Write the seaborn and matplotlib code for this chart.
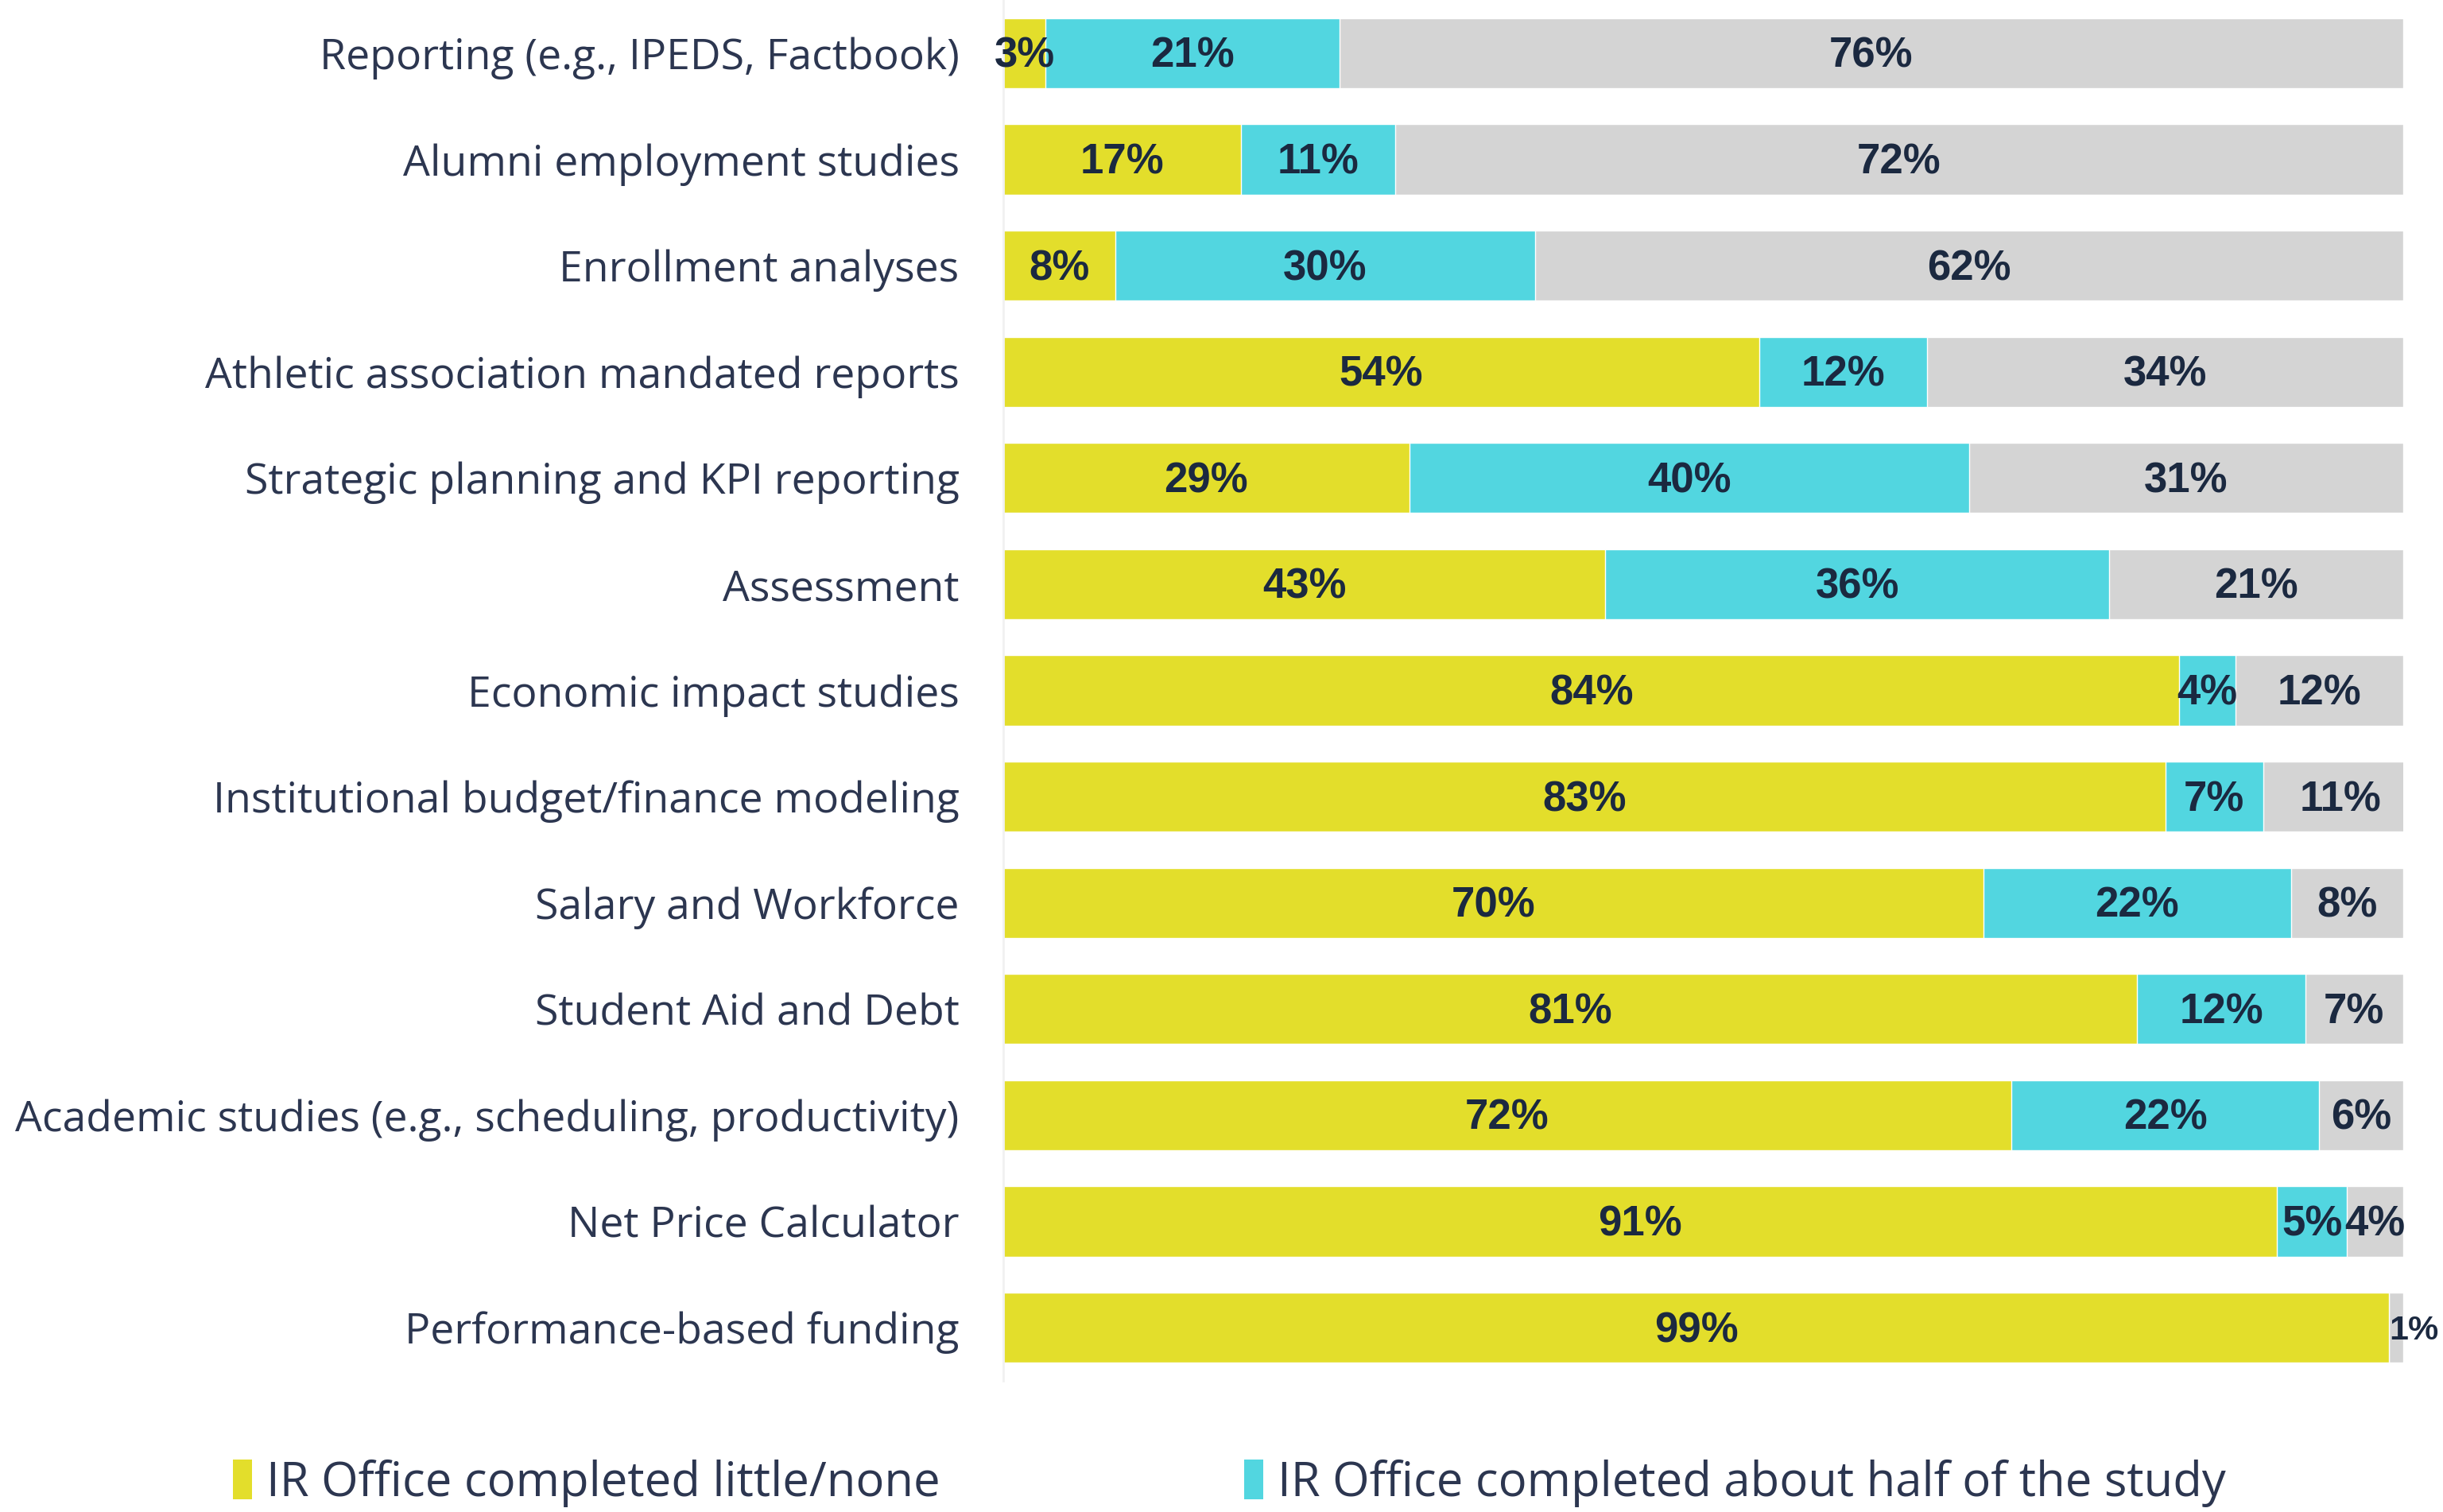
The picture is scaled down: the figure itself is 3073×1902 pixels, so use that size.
import numpy as np
import pandas as pd
import seaborn as sns
import matplotlib.pyplot as plt
from matplotlib.patches import Patch

# data (top row first)
categories = [
    "Reporting (e.g., IPEDS, Factbook)",
    "Alumni employment studies",
    "Enrollment analyses",
    "Athletic association mandated reports",
    "Strategic planning and KPI reporting",
    "Assessment",
    "Economic impact studies",
    "Institutional budget/finance modeling",
    "Salary and Workforce",
    "Student Aid and Debt",
    "Academic studies (e.g., scheduling, productivity)",
    "Net Price Calculator",
    "Performance-based funding",
]
little = [3, 17, 8, 54, 29, 43, 84, 83, 70, 81, 72, 91, 99]
half = [21, 11, 30, 12, 40, 36, 4, 7, 22, 12, 22, 5, 0]
most = [76, 72, 62, 34, 31, 21, 12, 11, 8, 7, 6, 4, 1]
legend_labels = ["IR Office completed little/none",
                 "IR Office completed about half of the study"]

YELLOW = "#E3DE2B"
CYAN = "#52D6E0"
GREY = "#D4D4D4"
TEXT = "#2C3650"
NAVY = "#1B2940"

df = pd.DataFrame({"category": categories, "little": little,
                   "half": half, "most": most})
df["cum_half"] = df["little"] + df["half"]
df["total"] = df["cum_half"] + df["most"]

sns.set_theme(style="white")
plt.rcParams["font.family"] = ["Open Sans", "DejaVu Sans"]

fig = plt.figure(figsize=(30.73, 19.02), dpi=100)
ax = fig.add_axes([0.4107, 0.0868, 0.573, 0.9132])

# layered bars: total (grey) -> little+half (cyan) -> little (yellow)
sns.barplot(data=df, y="category", x="total", color=GREY, width=0.66,
            saturation=1, ax=ax, orient="h")
sns.barplot(data=df, y="category", x="cum_half", color=CYAN, width=0.66,
            saturation=1, ax=ax, orient="h")
sns.barplot(data=df, y="category", x="little", color=YELLOW, width=0.66,
            saturation=1, ax=ax, orient="h")

# segment labels
for i, row in df.iterrows():
    segs = [(0, row["little"]), (row["little"], row["half"]),
            (row["cum_half"], row["most"])]
    for left, val in segs:
        if val <= 0:
            continue
        if val <= 1:
            # tiny slice: label sits just past the bar end
            ax.text(left, i + 0.03, f"{val}%", ha="left", va="center",
                    fontsize=31, fontweight="bold", color=NAVY,
                    family="Liberation Sans", clip_on=False)
        else:
            ax.text(left + val / 2, i + 0.03, f"{val}%", ha="center",
                    va="center", fontsize=38, fontweight="bold", color=NAVY,
                    family="Liberation Sans")

ax.set_xlim(0, 100)
ax.set_ylim(12.5, -0.5)
ax.set_xlabel("")
ax.set_ylabel("")
ax.set_xticks([])
ax.tick_params(axis="y", length=0, pad=40, labelsize=38.5, labelcolor=TEXT)
for side in ["top", "right", "bottom"]:
    ax.spines[side].set_visible(False)
ax.spines["left"].set_color("#F1F1F1")
ax.spines["left"].set_linewidth(2)

handles = [Patch(facecolor=YELLOW, edgecolor="none"),
           Patch(facecolor=CYAN, edgecolor="none")]
fig.legend(handles, legend_labels, loc="lower left",
           bbox_to_anchor=(0.078, -0.025), ncol=2, frameon=False,
           fontsize=43, labelcolor=TEXT, handlelength=0.4,
           handleheight=0.9, handletextpad=0.3, columnspacing=6.4)

fig.savefig("out.png", dpi=100)
